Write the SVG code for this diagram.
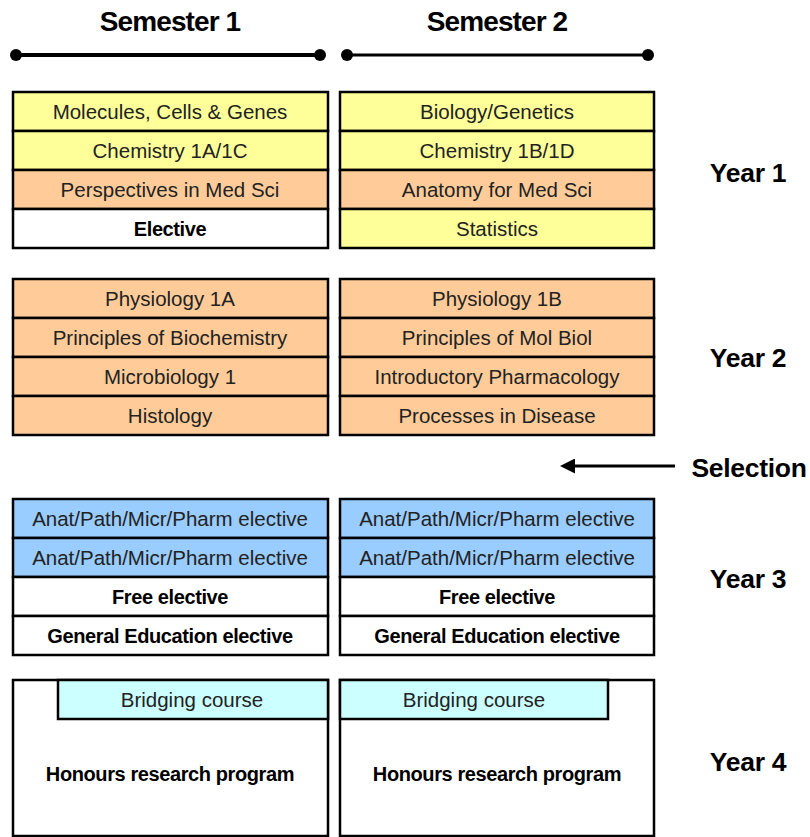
<svg xmlns="http://www.w3.org/2000/svg" width="810" height="837" viewBox="0 0 810 837">
<style>
.bx{stroke:#000;stroke-width:2.5}
.y{fill:#FFFF99}.o{fill:#FFCC99}.b{fill:#99CCFF}.c{fill:#CCFFFF}.w{fill:#fff}
text{font-family:"Liberation Sans",Arial,sans-serif;fill:#000;text-anchor:middle}
.t{font-size:20.5px;fill:#222}
.tb{font-size:20px;font-weight:bold;letter-spacing:-0.4px}
.h{font-size:28px;font-weight:bold;letter-spacing:-0.9px}
.yr{font-size:26.5px;font-weight:bold;letter-spacing:-0.3px}
</style>
<defs>
<marker id="ah" viewBox="0 0 10 10" refX="2" refY="5" markerWidth="5" markerHeight="5" orient="auto-start-reverse"><path d="M0,0L10,5L0,10z" fill="#000"/></marker>
</defs>
<rect width="810" height="837" fill="#fff"/>
<g id="header">
<text class="h" x="170" y="31">Semester 1</text>
<text class="h" x="497" y="31">Semester 2</text>
<line x1="16" y1="55" x2="320" y2="55" stroke="#000" stroke-width="4"/>
<circle cx="16" cy="55" r="6"/><circle cx="320" cy="55" r="6"/>
<line x1="347" y1="55" x2="648" y2="55" stroke="#000" stroke-width="3"/>
<circle cx="347" cy="55" r="6"/><circle cx="648" cy="55" r="6"/>
</g>
<g id="y1s1">
<rect class="bx y" x="13" y="92" width="315" height="39"/><text class="t" x="170" y="119">Molecules, Cells &amp; Genes</text>
<rect class="bx y" x="13" y="131" width="315" height="39"/><text class="t" x="170" y="158">Chemistry 1A/1C</text>
<rect class="bx o" x="13" y="170" width="315" height="39"/><text class="t" x="170" y="197">Perspectives in Med Sci</text>
<rect class="bx w" x="13" y="209" width="315" height="39"/><text class="tb" x="170" y="236">Elective</text>
</g>
<g id="y1s2">
<rect class="bx y" x="340" y="92" width="314" height="39"/><text class="t" x="497" y="119">Biology/Genetics</text>
<rect class="bx y" x="340" y="131" width="314" height="39"/><text class="t" x="497" y="158">Chemistry 1B/1D</text>
<rect class="bx o" x="340" y="170" width="314" height="39"/><text class="t" x="497" y="197">Anatomy for Med Sci</text>
<rect class="bx y" x="340" y="209" width="314" height="39"/><text class="t" x="497" y="236">Statistics</text>
</g>
<g id="y2s1">
<rect class="bx o" x="13" y="279" width="315" height="39"/><text class="t" x="170" y="306">Physiology 1A</text>
<rect class="bx o" x="13" y="318" width="315" height="39"/><text class="t" x="170" y="345">Principles of Biochemistry</text>
<rect class="bx o" x="13" y="357" width="315" height="39"/><text class="t" x="170" y="384">Microbiology 1</text>
<rect class="bx o" x="13" y="396" width="315" height="39"/><text class="t" x="170" y="423">Histology</text>
</g>
<g id="y2s2">
<rect class="bx o" x="340" y="279" width="314" height="39"/><text class="t" x="497" y="306">Physiology 1B</text>
<rect class="bx o" x="340" y="318" width="314" height="39"/><text class="t" x="497" y="345">Principles of Mol Biol</text>
<rect class="bx o" x="340" y="357" width="314" height="39"/><text class="t" x="497" y="384">Introductory Pharmacology</text>
<rect class="bx o" x="340" y="396" width="314" height="39"/><text class="t" x="497" y="423">Processes in Disease</text>
</g>
<g id="y3s1">
<rect class="bx b" x="13" y="499" width="315" height="39"/><text class="t" x="170" y="526">Anat/Path/Micr/Pharm elective</text>
<rect class="bx b" x="13" y="538" width="315" height="39"/><text class="t" x="170" y="565">Anat/Path/Micr/Pharm elective</text>
<rect class="bx w" x="13" y="577" width="315" height="39"/><text class="tb" x="170" y="604">Free elective</text>
<rect class="bx w" x="13" y="616" width="315" height="39"/><text class="tb" x="170" y="643">General Education elective</text>
</g>
<g id="y3s2">
<rect class="bx b" x="340" y="499" width="314" height="39"/><text class="t" x="497" y="526">Anat/Path/Micr/Pharm elective</text>
<rect class="bx b" x="340" y="538" width="314" height="39"/><text class="t" x="497" y="565">Anat/Path/Micr/Pharm elective</text>
<rect class="bx w" x="340" y="577" width="314" height="39"/><text class="tb" x="497" y="604">Free elective</text>
<rect class="bx w" x="340" y="616" width="314" height="39"/><text class="tb" x="497" y="643">General Education elective</text>
</g>
<g id="y4s1">
<rect class="bx w" x="13" y="680" width="315" height="156"/>
<rect class="bx c" x="58" y="680" width="270" height="39"/><text class="t" x="192" y="707">Bridging course</text>
<text class="tb" x="170" y="781">Honours research program</text>
</g>
<g id="y4s2">
<rect class="bx w" x="340" y="680" width="314" height="156"/>
<rect class="bx c" x="340" y="680" width="268" height="39"/><text class="t" x="474" y="707">Bridging course</text>
<text class="tb" x="497" y="781">Honours research program</text>
</g>
<g id="labels">
<text class="yr" x="748" y="182">Year 1</text>
<text class="yr" x="748" y="367">Year 2</text>
<text class="yr" x="748" y="588">Year 3</text>
<text class="yr" x="748" y="771">Year 4</text>
<text class="yr" x="749" y="477">Selection</text>
</g>
<g id="connectors">
<line x1="675" y1="466" x2="572" y2="466" stroke="#000" stroke-width="3" marker-end="url(#ah)"/>
</g>
</svg>
